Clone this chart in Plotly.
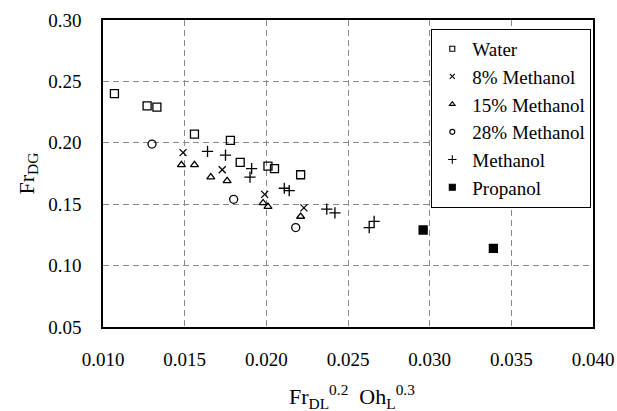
import plotly.graph_objects as go

water_x = [0.0107, 0.0127, 0.0133, 0.0156, 0.0178, 0.0184, 0.0201, 0.0205, 0.0221]
water_y = [0.240, 0.230, 0.229, 0.207, 0.202, 0.184, 0.181, 0.179, 0.174]

m8_x = [0.0149, 0.0173, 0.0199, 0.0223]
m8_y = [0.192, 0.178, 0.158, 0.147]

m15_x = [0.0148, 0.0156, 0.0166, 0.0176, 0.0198, 0.0201, 0.0221]
m15_y = [0.182, 0.182, 0.172, 0.169, 0.151, 0.148, 0.140]

m28_x = [0.0130, 0.0180, 0.0218]
m28_y = [0.199, 0.154, 0.131]

meoh_x = [0.0164, 0.0175, 0.0191, 0.0190, 0.0211, 0.0214, 0.0237, 0.0242, 0.0263, 0.0266]
meoh_y = [0.193, 0.190, 0.179, 0.172, 0.163, 0.161, 0.146, 0.143, 0.131, 0.136]

prop_x = [0.0296, 0.0339]
prop_y = [0.129, 0.114]

x_ticks = [0.010, 0.015, 0.020, 0.025, 0.030, 0.035, 0.040]
y_ticks = [0.05, 0.10, 0.15, 0.20, 0.25, 0.30]

series = [
    ("Water", water_x, water_y, "square-open", 8, 5),
    ("8% Methanol", m8_x, m8_y, "x-thin-open", 7, 5),
    ("15% Methanol", m15_x, m15_y, "triangle-up-open", 7, 5),
    ("28% Methanol", m28_x, m28_y, "circle-open", 8, 5),
    ("Methanol", meoh_x, meoh_y, "cross-thin-open", 8, 6),
    ("Propanol", prop_x, prop_y, "square", 8, 6),
]

FONT = "Liberation Serif"
tfont = dict(family=FONT, size=19, color="black")
ttl_font = dict(family=FONT, size=22, color="black")

fig = go.Figure()
for name, xs, ys, sym, size, lsize in series:
    fig.add_trace(go.Scatter(
        x=xs, y=ys, mode="markers", name=name, showlegend=False,
        marker=dict(symbol=sym, size=size, color="black",
                    line=dict(color="black", width=1.3)),
    ))
for name, xs, ys, sym, size, lsize in series:
    fig.add_trace(go.Scatter(
        x=[None], y=[None], mode="markers", name=name, showlegend=True,
        marker=dict(symbol=sym, size=lsize, color="black",
                    line=dict(color="black", width=1.1)),
    ))

fig.update_layout(
    width=617, height=411,
    margin=dict(l=103, r=24, t=20, b=84),
    paper_bgcolor="white", plot_bgcolor="white",
    font=tfont,
    showlegend=True,
    legend=dict(
        x=0.67, y=0.971, xanchor="left", yanchor="top",
        bordercolor="black", borderwidth=1, bgcolor="white",
        font=tfont, tracegroupgap=0, itemwidth=30,
    ),
    xaxis=dict(
        range=[0.010, 0.040], tickvals=x_ticks,
        ticktext=[f"{v:.3f}" for v in x_ticks], tickfont=tfont,
        showgrid=True, gridcolor="#8a8a8a", griddash="6px,4px", gridwidth=1,
        showline=True, linecolor="black", linewidth=1.5, mirror=True,
        ticks="outside", ticklen=14, tickcolor="rgba(0,0,0,0)",
        zeroline=False, automargin=False,
    ),
    yaxis=dict(
        range=[0.05, 0.30], tickvals=y_ticks,
        ticktext=[f"{v:.2f}" for v in y_ticks], tickfont=tfont,
        showgrid=True, gridcolor="#8a8a8a", griddash="6px,4px", gridwidth=1,
        showline=True, linecolor="black", linewidth=1.5, mirror=True,
        ticks="outside", ticklen=16, tickcolor="rgba(0,0,0,0)",
        zeroline=False, automargin=False,
    ),
    annotations=[
        dict(
            text="Fr<sub>DG</sub>", textangle=-90, showarrow=False,
            xref="paper", yref="paper", x=-0.155, y=0.5,
            xanchor="center", yanchor="middle", font=ttl_font,
        ),
        dict(
            text="Fr<sub>DL</sub><sup>0.2</sup>&nbsp;&nbsp;Oh<sub>L</sub><sup>0.3</sup>",
            showarrow=False, xref="paper", yref="paper", x=0.508, y=-0.225,
            xanchor="center", yanchor="middle", font=ttl_font,
        ),
    ],
)

fig.write_html("out.html")
